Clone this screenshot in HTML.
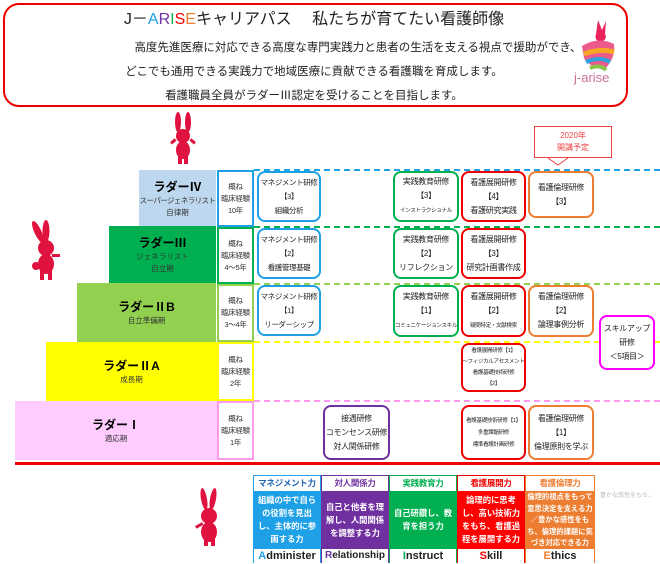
<!DOCTYPE html>
<html><head><meta charset="utf-8"><style>
*{margin:0;padding:0;box-sizing:border-box}
body{width:660px;height:564px;background:#fff;position:relative;overflow:hidden;font-family:"Liberation Sans","Noto Sans CJK JP",sans-serif;color:#222}
.a{position:absolute}
.c{display:flex;flex-direction:column;align-items:center;justify-content:center;text-align:center}
.bx{position:absolute;border:2px solid;border-radius:8px;background:#fff;font-size:8px;line-height:14px;display:flex;align-items:center;justify-content:center;text-align:center;white-space:nowrap;letter-spacing:-0.3px}
.lad{position:absolute;display:flex;align-items:center;justify-content:center;text-align:center;font-size:7.5px;line-height:12px;color:#333;white-space:nowrap}
.lad b{font-size:12px;color:#000;line-height:16px}
.exp{position:absolute;left:217px;width:37px;background:#fff;border:2px solid;font-size:7.5px;line-height:12px;display:flex;justify-content:center;align-items:center;text-align:center;color:#333;white-space:nowrap;letter-spacing:-0.3px}
.dl{position:absolute;left:254px;right:0;height:0;border-top:2px dashed}
.col{position:absolute;top:475px;width:68px;height:88px;border:1px solid}
.col .h{height:15px;font-size:8.5px;font-weight:bold;text-align:center;line-height:14px;background:#fff;white-space:nowrap;letter-spacing:-0.3px}
.col .m{height:58px;color:#fff;font-weight:bold;font-size:8.3px;line-height:13px;display:flex;align-items:center;justify-content:center;text-align:center;padding:0 2px}
.col .f{height:14px;font-size:11px;font-weight:bold;text-align:center;line-height:14px;background:#fff;color:#222;white-space:nowrap}
.mg{font-size:7.5px;letter-spacing:-0.4px}
</style></head><body>

<div class="a" style="left:3px;top:3px;width:625px;height:104px;border:2px solid #e00;border-radius:16px"></div>
<div class="a" style="left:0;top:9px;width:628px;text-align:center;font-size:16px;line-height:22px">J－<span style="color:#1ea0e6">A</span><span style="color:#7030a0">R</span><span style="color:#00b050">I</span><span style="color:#e00">S</span><span style="color:#ed7d31">E</span>キャリアパス　 私たちが育てたい看護師像</div>
<div class="a" style="left:0;top:40px;width:628px;text-align:center;font-size:11.5px;line-height:16px;padding-left:88px;white-space:nowrap">高度先進医療に対応できる高度な専門実践力と患者の生活を支える視点で援助ができ、</div>
<div class="a" style="left:0;top:64px;width:628px;text-align:center;font-size:11.5px;line-height:16px">どこでも通用できる実践力で地域医療に貢献できる看護職を育成します。</div>
<div class="a" style="left:0;top:88px;width:628px;text-align:center;font-size:11.5px;line-height:16px">看護職員全員がラダーⅢ認定を受けることを目指します。</div>
<svg class="a" style="left:570px;top:18px" width="50" height="70" viewBox="0 0 50 70">
<path d="M28 2 L32 12 L36 3 L35 16 Q38 22 30 24 Q24 22 26 16Z" fill="#e8245a"/>
<path d="M12 28 Q28 18 44 26 Q46 40 34 52 Q18 48 14 40 Z" fill="#ec5a8c"/>
<path d="M14 36 Q30 30 44 34" stroke="#f5a623" stroke-width="5" fill="none"/>
<path d="M16 44 Q30 38 40 44" stroke="#2aa3e0" stroke-width="4" fill="none"/>
<path d="M20 50 Q30 46 36 52" stroke="#8bc34a" stroke-width="4" fill="none"/>
</svg>
<div class="a" style="left:574px;top:70px;font-size:13px;color:#c8709a">j-arise</div>

<svg class="a" style="left:168px;top:112px" width="30" height="52" viewBox="0 0 30 52"><g fill="#e0123f"><ellipse cx="10" cy="10" rx="3" ry="10"/><ellipse cx="20" cy="10" rx="3" ry="10"/><circle cx="15" cy="24" r="7"/><ellipse cx="15" cy="38" rx="7" ry="9"/><rect x="2" y="28" width="6" height="3" transform="rotate(-40 5 29)"/><rect x="22" y="28" width="6" height="3" transform="rotate(40 25 29)"/><rect x="10" y="44" width="4" height="8"/><rect x="16" y="44" width="4" height="8"/></g></svg>
<svg class="a" style="left:28px;top:220px" width="36" height="60" viewBox="0 0 36 60"><g fill="#e0123f"><ellipse cx="10" cy="12" rx="3.5" ry="12" transform="rotate(-25 10 12)"/><ellipse cx="18" cy="11" rx="3.5" ry="11"/><circle cx="18" cy="28" r="8"/><ellipse cx="18" cy="44" rx="8" ry="10"/><rect x="24" y="34" width="8" height="3"/><rect x="12" y="50" width="4" height="10"/><rect x="20" y="50" width="4" height="10"/><circle cx="8" cy="46" r="4"/></g></svg>
<svg class="a" style="left:193px;top:488px" width="32" height="58" viewBox="0 0 32 58"><g fill="#e0123f"><ellipse cx="11" cy="11" rx="3" ry="11" transform="rotate(-10 11 11)"/><ellipse cx="20" cy="11" rx="3" ry="11" transform="rotate(10 20 11)"/><circle cx="16" cy="28" r="8"/><ellipse cx="16" cy="44" rx="8" ry="10"/><rect x="2" y="36" width="8" height="3" transform="rotate(-30 6 37)"/><rect x="11" y="50" width="4" height="8"/><rect x="18" y="50" width="4" height="8"/></g></svg>

<div class="lad" style="left:139px;top:170px;width:77px;height:57px;background:#bdd7ee"><div><b>ラダーⅣ</b><br><span style="letter-spacing:-0.6px">スーパージェネラリスト</span><br>自律期</div></div>
<div class="lad" style="left:109px;top:226px;width:107px;height:58px;background:#00b050"><div><b>ラダーⅢ</b><br>ジェネラリスト<br>自立期</div></div>
<div class="lad" style="left:77px;top:283px;width:139px;height:59px;background:#92d050"><div><b>ラダーⅡB</b><br>自立準備期</div></div>
<div class="lad" style="left:46px;top:342px;width:171px;height:59px;background:#ffff00"><div><b>ラダーⅡA</b><br>成長期</div></div>
<div class="lad" style="left:15px;top:401px;width:202px;height:59px;background:#ffccff"><div><b>ラダーⅠ</b><br>適応期</div></div>

<div class="exp" style="top:170px;height:57px;border-color:#1ea0e6"><div>概ね<br>臨床経験<br>10年</div></div>
<div class="exp" style="top:227px;height:57px;border-color:#00b050"><div>概ね<br>臨床経験<br>4～5年</div></div>
<div class="exp" style="top:284px;height:58px;border-color:#92d050"><div>概ね<br>臨床経験<br>3～4年</div></div>
<div class="exp" style="top:342px;height:59px;border-color:#ffff00"><div>概ね<br>臨床経験<br>2年</div></div>
<div class="exp" style="top:401px;height:59px;border-color:#ff99ee"><div>概ね<br>臨床経験<br>1年</div></div>

<div class="dl" style="top:169px;border-color:#1ea0e6"></div>
<div class="dl" style="top:226px;border-color:#00b050"></div>
<div class="dl" style="top:283px;border-color:#92d050"></div>
<div class="dl" style="top:341px;border-color:#ffff00"></div>
<div class="dl" style="top:400px;border-color:#ff99ee"></div>
<div class="a" style="left:15px;top:462px;width:645px;height:3px;background:#e00"></div>

<div class="a c" style="left:534px;top:126px;width:78px;height:32px;border:1px solid #e44;color:#e44;font-size:8px;line-height:12px;background:#fff">2020年<br>開講予定</div>
<svg class="a" style="left:548px;top:157px" width="22" height="10"><path d="M0 1 L10 8 L20 1" fill="#fff" stroke="#e44"/></svg>

<div class="bx mg" style="left:257px;top:171px;width:64px;height:51px;border-color:#1ea0e6"><div>マネジメント研修<br>【3】<br>組織分析</div></div>
<div class="bx mg" style="left:257px;top:228px;width:64px;height:51px;border-color:#1ea0e6"><div>マネジメント研修<br>【2】<br>看護管理基礎</div></div>
<div class="bx mg" style="left:257px;top:285px;width:64px;height:51px;border-color:#1ea0e6"><div>マネジメント研修<br>【1】<br>リーダーシップ</div></div>

<div class="bx" style="left:393px;top:171px;width:66px;height:51px;border-color:#00b050"><div>実践教育研修<br>【3】<br><span style="font-size:5.5px">インストラクショナル</span></div></div>
<div class="bx" style="left:393px;top:228px;width:66px;height:51px;border-color:#00b050"><div>実践教育研修<br>【2】<br>リフレクション</div></div>
<div class="bx" style="left:393px;top:285px;width:66px;height:52px;border-color:#00b050"><div>実践教育研修<br>【1】<br><span style="font-size:5.5px">コミュニケーションスキル</span></div></div>

<div class="bx" style="left:461px;top:171px;width:65px;height:51px;border-color:#e00"><div>看護展開研修<br>【4】<br>看護研究実践</div></div>
<div class="bx" style="left:461px;top:228px;width:65px;height:51px;border-color:#e00"><div>看護展開研修<br>【3】<br>研究計画書作成</div></div>
<div class="bx" style="left:461px;top:285px;width:65px;height:52px;border-color:#e00"><div>看護展開研修<br>【2】<br><span style="font-size:5.5px">疑問特定・文献検索</span></div></div>
<div class="bx" style="left:461px;top:343px;width:65px;height:49px;border-color:#e00;font-size:5.5px;line-height:11px"><div>看護展開研修【1】<br>～フィジカルアセスメント<br>看護基礎技術研修<br>【2】</div></div>
<div class="bx" style="left:461px;top:405px;width:65px;height:55px;border-color:#e00;font-size:5.5px;line-height:12px"><div>看護基礎技術研修【1】<br>多重課題研修<br>標準看護計画研修</div></div>

<div class="bx" style="left:528px;top:171px;width:66px;height:47px;border-color:#ed7d31"><div>看護倫理研修<br>【3】</div></div>
<div class="bx" style="left:528px;top:285px;width:66px;height:52px;border-color:#ed7d31"><div>看護倫理研修<br>【2】<br>論理事例分析</div></div>
<div class="bx" style="left:528px;top:405px;width:66px;height:55px;border-color:#ed7d31"><div>看護倫理研修<br>【1】<br>倫理原則を学ぶ</div></div>

<div class="bx" style="left:323px;top:405px;width:67px;height:55px;border-color:#7030a0"><div>接遇研修<br>コモンセンス研修<br>対人関係研修</div></div>
<div class="bx" style="left:599px;top:315px;width:56px;height:55px;border-color:#f0f"><div>スキルアップ<br>研修<br>＜5項目＞</div></div>

<div class="col" style="left:253px;border-color:#1ea0e6"><div class="h" style="color:#1e64b4">マネジメント力</div><div class="m" style="background:#1ea0e6">組織の中で自らの役割を見出し、主体的に参画する力</div><div class="f"><span style="color:#1ea0e6">A</span>dminister</div></div>
<div class="col" style="left:321px;border-color:#7030a0"><div class="h" style="color:#7030a0">対人関係力</div><div class="m" style="background:#7030a0">自己と他者を理解し、人間関係を調整する力</div><div class="f" style="font-size:10px"><span style="color:#7030a0">R</span>elationship</div></div>
<div class="col" style="left:389px;border-color:#00b050"><div class="h" style="color:#00b050">実践教育力</div><div class="m" style="background:#00b050">自己研鑽し、教育を担う力</div><div class="f"><span style="color:#00b050">I</span>nstruct</div></div>
<div class="col" style="left:457px;border-color:#e00"><div class="h" style="color:#e00">看護展開力</div><div class="m" style="background:#f00">論理的に思考し、高い技術力をもち、看護過程を展開する力</div><div class="f"><span style="color:#e00">S</span>kill</div></div>
<div class="col" style="left:525px;border-color:#ed7d31;width:70px"><div class="h" style="color:#ed7d31">看護倫理力</div><div class="m" style="background:#ed7d31;font-size:7.3px;line-height:11.5px;padding:0 1px">倫理的視点をもって意思決定を支える力／豊かな感性をもち、倫理的課題に気づき対応できる力</div><div class="f"><span style="color:#ed7d31">E</span>thics</div></div>
<div class="a" style="left:600px;top:490px;font-size:6px;color:#bbb;white-space:nowrap">豊かな感性をもち、</div>
</body></html>
